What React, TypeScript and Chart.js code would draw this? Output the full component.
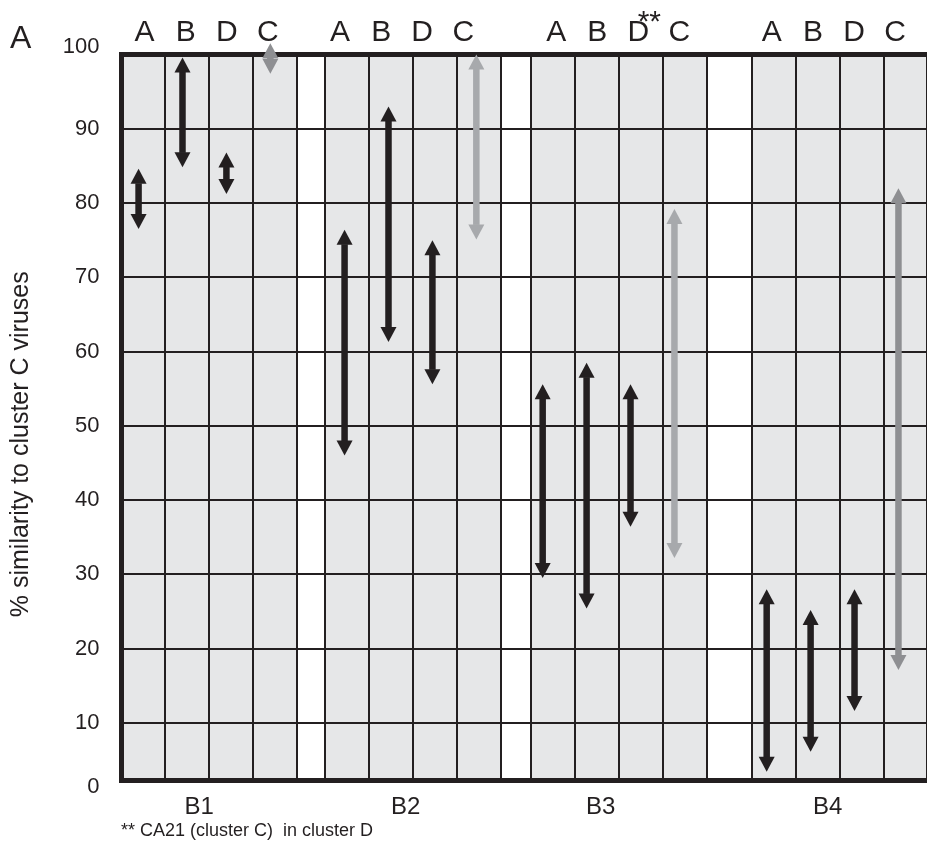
import React, { useEffect, useRef } from 'react';
import { Chart, registerables } from 'chart.js';

Chart.register(...registerables);

// ---- data -------------------------------------------------------------
const groups = ['B1', 'B2', 'B3', 'B4'];
const columns = ['A', 'B', 'D', 'C'];

// % similarity to cluster C viruses: [low, high] for each group B1..B4
const rangeA: [number, number][] = [[76.5, 84.6], [46.0, 76.4], [29.5, 55.6], [3.4, 28.0]];
const rangeB: [number, number][] = [[84.8, 99.6], [61.3, 93.0], [25.4, 58.5], [6.1, 25.2]];
const rangeD: [number, number][] = [[81.2, 86.8], [55.6, 75.0], [36.4, 55.6], [11.6, 28.0]];
const rangeC: [number, number][] = [[97.4, 101.5], [75.1, 100.0], [32.2, 79.2], [17.1, 82.0]];

const yTickValues = [0, 10, 20, 30, 40, 50, 60, 70, 80, 90, 100];
const yTitle = '% similarity to cluster C viruses';
const footnote = '** CA21 (cluster C)  in cluster D';
const panelLabel = 'A';
const starMark = '**';
const starred = { group: 2, column: 2 }; // CA21 sits under B3 / D

// ---- layout (one x unit = one column) ---------------------------------
const GROUP_START = [0, 4.65, 9.34, 14.36];
const X_MAX = 18.35;
const Y_MIN = 2.3;
const Y_MAX = 100;
const ARROW_SHIFT = [-0.1, -0.06, -0.24, -0.16];
const LETTER_STEP = 0.935;
const LETTER_SHIFT = [-0.06, -0.26, -0.03, -0.14];
const GROUP_LABEL_SHIFT = [-0.22, -0.17, -0.42, -0.27];

const INK = '#231f20';
const CELL_FILL = '#e6e7e8';
const LIGHT_GREY = '#a7a9ac';
const MID_GREY = '#8e8f92';
const C_COLORS = [MID_GREY, LIGHT_GREY, LIGHT_GREY, MID_GREY];
const FONT = "'Liberation Sans', Arial, Helvetica, sans-serif";

const ranges = [rangeA, rangeB, rangeD, rangeC];

const letterPos = (g: number, k: number) =>
  GROUP_START[g] + columns.length / 2 + (k - 1.5) * LETTER_STEP + LETTER_SHIFT[g];
const groupLabelPos = GROUP_START.map((s, g) => s + columns.length / 2 + GROUP_LABEL_SHIFT[g]);
const letterTicks: { value: number; label: string }[] = [];
GROUP_START.forEach((_, g) =>
  columns.forEach((c, k) => letterTicks.push({ value: letterPos(g, k), label: c }))
);

function drawArrow(ctx: CanvasRenderingContext2D, x: number, yTop: number, yBot: number, color: string) {
  const headH = 15;
  const headW = 16;
  const shaft = 6.5;
  const span = yBot - yTop;
  const h = Math.min(headH, span / 2);
  ctx.fillStyle = color;
  if (span > 2 * h) ctx.fillRect(x - shaft / 2, yTop + h - 0.5, shaft, span - 2 * h + 1);
  ctx.beginPath();
  ctx.moveTo(x, yTop);
  ctx.lineTo(x + headW / 2, yTop + h);
  ctx.lineTo(x - headW / 2, yTop + h);
  ctx.closePath();
  ctx.fill();
  ctx.beginPath();
  ctx.moveTo(x, yBot);
  ctx.lineTo(x + headW / 2, yBot - h);
  ctx.lineTo(x - headW / 2, yBot - h);
  ctx.closePath();
  ctx.fill();
}

// grey cells behind each group; the gaps between groups stay white
const cellBackground = {
  id: 'cellBackground',
  beforeDraw(chart: any) {
    const { ctx, chartArea, scales } = chart;
    const x = scales.x;
    ctx.save();
    ctx.fillStyle = CELL_FILL;
    GROUP_START.forEach((s) => {
      const x0 = x.getPixelForValue(s);
      const x1 = x.getPixelForValue(s + columns.length);
      ctx.fillRect(x0, chartArea.top, x1 - x0, chartArea.bottom - chartArea.top);
    });
    ctx.restore();
  },
};

// double-headed arrows spanning each floating bar
const rangeArrows = {
  id: 'rangeArrows',
  afterDatasetsDraw(chart: any) {
    const { ctx } = chart;
    ctx.save();
    chart.data.datasets.forEach((ds: any, di: number) => {
      const meta = chart.getDatasetMeta(di);
      meta.data.forEach((el: any, i: number) => {
        const top = Math.min(el.y, el.base);
        const bot = Math.max(el.y, el.base);
        drawArrow(ctx, el.x, top, bot, ds.arrowColors[i]);
      });
    });
    ctx.restore();
  },
};

const annotations = {
  id: 'annotations',
  afterDraw(chart: any) {
    const { ctx, scales, chartArea } = chart;
    ctx.save();
    ctx.fillStyle = INK;

    // panel letter
    ctx.textBaseline = 'alphabetic';
    ctx.textAlign = 'left';
    ctx.font = `32px ${FONT}`;
    ctx.fillText(panelLabel, 10, 48);

    // footnote marker above B3 / D
    ctx.textAlign = 'center';
    ctx.font = `30px ${FONT}`;
    const px = scales.xTop.getPixelForValue(letterPos(starred.group, starred.column));
    ctx.fillText(starMark, px + 11, 30.5);

    // y-axis title
    ctx.font = `25px ${FONT}`;
    ctx.textBaseline = 'middle';
    ctx.translate(21, (chartArea.top + chartArea.bottom) / 2 + 27);
    ctx.rotate(-Math.PI / 2);
    ctx.fillText(yTitle, 0, 0);
    ctx.restore();
  },
};

export default function App() {
  const canvasRef = useRef<HTMLCanvasElement | null>(null);

  useEffect(() => {
    if (!canvasRef.current) return;
    Chart.defaults.font.family = FONT;
    Chart.defaults.color = INK;

    const chart = new Chart(canvasRef.current, {
      type: 'bar',
      data: {
        datasets: columns.map((col, ci) => ({
          label: col,
          data: groups.map((_, gi) => ({
            x: GROUP_START[gi] + ci + 0.5 + ARROW_SHIFT[gi],
            y: ranges[ci][gi],
          })),
          backgroundColor: 'rgba(0,0,0,0)',
          borderWidth: 0,
          grouped: false,
          arrowColors: groups.map((_, gi) => (col === 'C' ? C_COLORS[gi] : INK)),
        })) as any,
      },
      options: {
        responsive: false,
        animation: false,
        devicePixelRatio: 1,
        events: [],
        layout: { padding: 0 },
        plugins: { legend: { display: false }, tooltip: { enabled: false } },
        scales: {
          x: {
            type: 'linear',
            position: 'bottom',
            min: 0,
            max: X_MAX,
            offset: false,
            afterBuildTicks: (scale: any) => {
              const ticks: { value: number }[] = [];
              GROUP_START.forEach((s) => {
                for (let k = 0; k <= columns.length; k++) ticks.push({ value: s + k });
              });
              groupLabelPos.forEach((v) => ticks.push({ value: v }));
              ticks.sort((a, b) => a.value - b.value);
              scale.ticks = ticks;
            },
            afterFit: (scale: any) => {
              scale.height = 64;
              scale.paddingLeft = 0;
              scale.paddingRight = 0;
            },
            grid: {
              offset: false,
              drawTicks: false,
              lineWidth: 2,
              color: (ctx: any) =>
                ctx.tick && groupLabelPos.includes(ctx.tick.value) ? 'rgba(0,0,0,0)' : INK,
            },
            border: { display: true, width: 5, color: INK },
            ticks: {
              autoSkip: false,
              maxRotation: 0,
              padding: 13,
              color: INK,
              font: { size: 24 },
              callback: (value: any) => {
                const gi = groupLabelPos.indexOf(Number(value));
                return gi >= 0 ? groups[gi] : '';
              },
            },
            title: {
              display: true,
              text: footnote,
              align: 'start',
              color: INK,
              font: { size: 18 },
              padding: { top: 0, bottom: 2 },
            },
          },
          xTop: {
            type: 'linear',
            position: 'top',
            min: 0,
            max: X_MAX,
            offset: false,
            afterBuildTicks: (scale: any) => {
              scale.ticks = letterTicks.map((t) => ({ value: t.value }));
            },
            afterFit: (scale: any) => {
              scale.height = 54.5;
              scale.paddingLeft = 0;
              scale.paddingRight = 0;
            },
            grid: { display: false, drawTicks: false, offset: false },
            border: { display: true, width: 5, color: INK },
            ticks: {
              autoSkip: false,
              maxRotation: 0,
              padding: 3.6,
              color: INK,
              font: { size: 30 },
              callback: (_v: any, index: number) => letterTicks[index].label,
            },
          },
          y: {
            type: 'linear',
            position: 'left',
            min: Y_MIN,
            max: Y_MAX,
            afterBuildTicks: (scale: any) => {
              scale.ticks = yTickValues.map((v) => ({ value: Math.max(v, Y_MIN) }));
            },
            afterFit: (scale: any) => {
              scale.width = 121;
            },
            grid: { drawTicks: false, lineWidth: 2, color: INK },
            border: { display: true, width: 5, color: INK },
            ticks: {
              padding: 21.5,
              color: INK,
              font: { size: 22, lineHeight: 0.66 },
              callback: (_v: any, index: number) => {
                const label = String(yTickValues[index]);
                if (index === 0) return ['', label];
                if (index === yTickValues.length - 1) return [label, ''];
                return label;
              },
            },
          },
        },
      } as any,
      plugins: [cellBackground, rangeArrows, annotations],
    });

    return () => chart.destroy();
  }, []);

  return (
    <div style={{ position: 'absolute', left: 0, top: 0, width: 927, height: 844, background: '#ffffff' }}>
      <canvas ref={canvasRef} width={927} height={844} style={{ display: 'block' }} />
    </div>
  );
}
